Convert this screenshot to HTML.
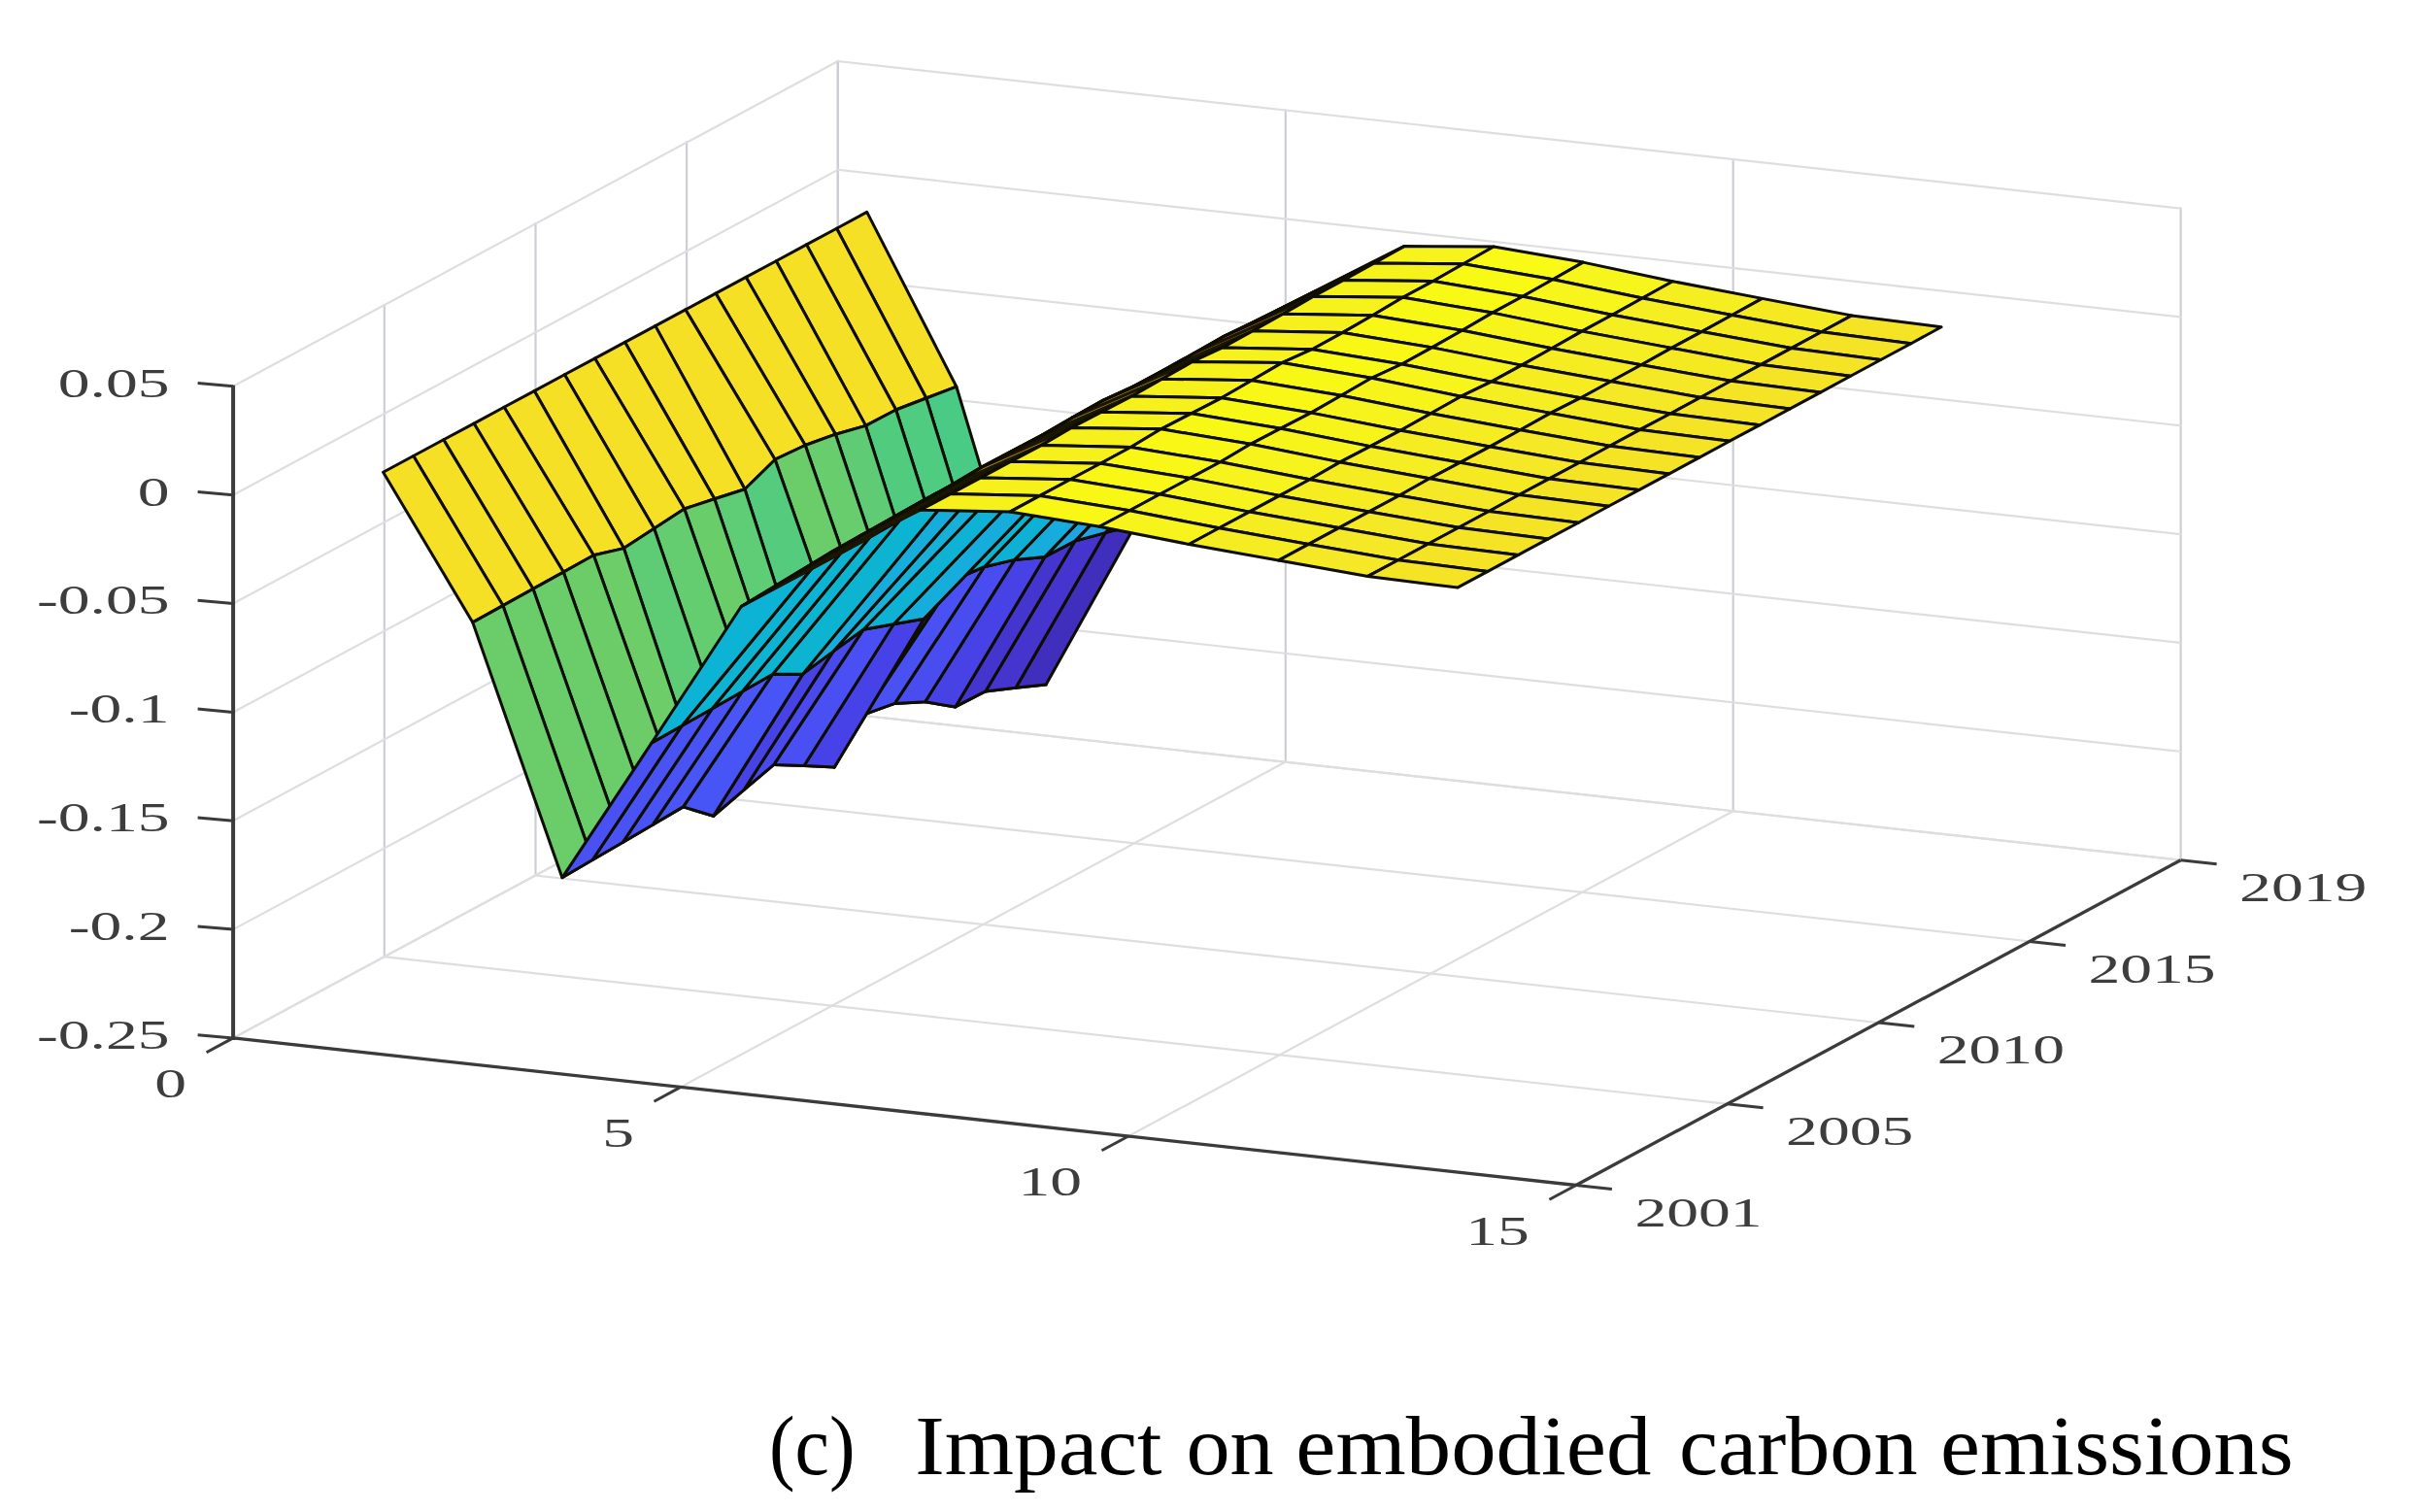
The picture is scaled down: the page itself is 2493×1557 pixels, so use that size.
<!DOCTYPE html>
<html lang="en"><head><meta charset="utf-8"><title>Impact on embodied carbon emissions</title><style>html,body{margin:0;padding:0;background:#fff}svg{display:block}</style></head><body>
<svg width="2493" height="1557" viewBox="0 0 2493 1557">
<rect width="2493" height="1557" fill="#fff"/>
<defs><filter id="soft" x="0" y="0" width="2493" height="1557" filterUnits="userSpaceOnUse"><feGaussianBlur stdDeviation="0.75"/></filter></defs>
<g filter="url(#soft)">
<g stroke="#cdced5" stroke-width="2.2" fill="none" stroke-linecap="square">
<line x1="240.1" y1="1068.9" x2="240.1" y2="397.8"/>
<line x1="395.8" y1="985.2" x2="395.8" y2="314.1"/>
<line x1="551.5" y1="901.5" x2="551.5" y2="230.4"/>
<line x1="707.1" y1="817.8" x2="707.1" y2="146.7"/>
<line x1="862.8" y1="734.1" x2="862.8" y2="63.0"/>
<line x1="240.1" y1="1068.9" x2="862.8" y2="734.1" stroke="#dedee1"/>
<line x1="240.1" y1="957.1" x2="862.8" y2="622.3" stroke="#dedee1"/>
<line x1="240.1" y1="845.2" x2="862.8" y2="510.4" stroke="#dedee1"/>
<line x1="240.1" y1="733.4" x2="862.8" y2="398.6" stroke="#dedee1"/>
<line x1="240.1" y1="621.5" x2="862.8" y2="286.7" stroke="#dedee1"/>
<line x1="240.1" y1="509.7" x2="862.8" y2="174.9" stroke="#dedee1"/>
<line x1="240.1" y1="397.8" x2="862.8" y2="63.0" stroke="#dedee1"/>
<line x1="862.8" y1="734.1" x2="862.8" y2="63.0"/>
<line x1="1323.8" y1="784.6" x2="1323.8" y2="113.5"/>
<line x1="1784.7" y1="835.2" x2="1784.7" y2="164.1"/>
<line x1="2245.6" y1="885.7" x2="2245.6" y2="214.6"/>
<line x1="862.8" y1="734.1" x2="2245.6" y2="885.7" stroke="#dedee1"/>
<line x1="862.8" y1="622.3" x2="2245.6" y2="773.9" stroke="#dedee1"/>
<line x1="862.8" y1="510.4" x2="2245.6" y2="662.0" stroke="#dedee1"/>
<line x1="862.8" y1="398.6" x2="2245.6" y2="550.2" stroke="#dedee1"/>
<line x1="862.8" y1="286.7" x2="2245.6" y2="438.3" stroke="#dedee1"/>
<line x1="862.8" y1="174.9" x2="2245.6" y2="326.5" stroke="#dedee1"/>
<line x1="862.8" y1="63.0" x2="2245.6" y2="214.6" stroke="#dedee1"/>
<line x1="240.1" y1="1068.9" x2="862.8" y2="734.1" stroke="#dedee1"/>
<line x1="701.0" y1="1119.4" x2="1323.8" y2="784.6" stroke="#dedee1"/>
<line x1="1162.0" y1="1170.0" x2="1784.7" y2="835.2" stroke="#dedee1"/>
<line x1="1622.9" y1="1220.5" x2="2245.6" y2="885.7" stroke="#dedee1"/>
<line x1="240.1" y1="1068.9" x2="1622.9" y2="1220.5" stroke="#dedee1"/>
<line x1="395.8" y1="985.2" x2="1778.6" y2="1136.8" stroke="#dedee1"/>
<line x1="551.5" y1="901.5" x2="1934.3" y2="1053.1" stroke="#dedee1"/>
<line x1="707.1" y1="817.8" x2="2090.0" y2="969.4" stroke="#dedee1"/>
<line x1="862.8" y1="734.1" x2="2245.6" y2="885.7" stroke="#dedee1"/>
</g>
<g stroke="#0a0902" stroke-width="3.0" stroke-linejoin="round">
<polygon points="861.6,235.2 953.8,410.0 984.9,398.2 892.7,218.4" fill="#f6e028"/>
<polygon points="953.8,410.0 1046.0,708.3 1077.1,705.1 984.9,398.2" fill="#49cb85"/>
<polygon points="1046.0,708.3 1138.2,548.6 1169.3,540.3 1077.1,705.1" fill="#412dbc"/>
<polygon points="1138.2,548.6 1257.5,424.5 1257.5,448.6 1169.3,540.3" fill="#23a0e5"/>
<polygon points="830.5,251.9 922.6,422.0 953.8,410.0 861.6,235.2" fill="#f6e028"/>
<polygon points="922.6,422.0 1014.8,711.9 1046.0,708.3 953.8,410.0" fill="#50cc7f"/>
<polygon points="1014.8,711.9 1107.0,557.1 1138.2,548.6 1046.0,708.3" fill="#4434ce"/>
<polygon points="1107.0,557.1 1257.5,400.6 1257.5,424.5 1138.2,548.6" fill="#20a5e2"/>
<polygon points="799.3,268.7 891.5,438.4 922.6,422.0 830.5,251.9" fill="#f6e028"/>
<polygon points="891.5,438.4 983.7,727.9 1014.8,711.9 922.6,422.0" fill="#51cc7f"/>
<polygon points="983.7,727.9 1075.9,573.4 1107.0,557.1 1014.8,711.9" fill="#4434cf"/>
<polygon points="1075.9,573.4 1257.5,384.5 1257.5,400.6 1107.0,557.1" fill="#1fa5e2"/>
<polygon points="768.2,285.4 860.4,447.2 891.5,438.4 799.3,268.7" fill="#f6e028"/>
<polygon points="860.4,447.2 952.6,722.8 983.7,727.9 891.5,438.4" fill="#5ecc74"/>
<polygon points="952.6,722.8 1044.8,576.4 1075.9,573.4 983.7,727.9" fill="#4742e6"/>
<polygon points="1044.8,576.4 1257.5,355.2 1257.5,384.5 1075.9,573.4" fill="#19addc"/>
<polygon points="737.0,302.1 829.2,458.5 860.4,447.2 768.2,285.4" fill="#f6e028"/>
<polygon points="829.2,458.5 921.4,724.4 952.6,722.8 860.4,447.2" fill="#67cd6d"/>
<polygon points="921.4,724.4 1013.6,583.7 1044.8,576.4 952.6,722.8" fill="#484df0"/>
<polygon points="1013.6,583.7 1205.4,384.3 1257.5,355.2 1044.8,576.4" fill="#11b1d6"/>
<polygon points="705.9,318.9 798.1,473.2 829.2,458.5 737.0,302.1" fill="#f6e028"/>
<polygon points="798.1,473.2 890.3,735.6 921.4,724.4 829.2,458.5" fill="#6acd6a"/>
<polygon points="890.3,735.6 982.5,597.0 1013.6,583.7 921.4,724.4" fill="#4851f3"/>
<polygon points="982.5,597.0 1166.8,405.3 1205.4,384.3 1013.6,583.7" fill="#0db3d3"/>
<polygon points="674.8,335.6 767.0,503.7 798.1,473.2 705.9,318.9" fill="#f6e028"/>
<polygon points="767.0,503.7 859.2,790.1 890.3,735.6 798.1,473.2" fill="#54cc7d"/>
<polygon points="859.2,790.1 951.3,637.3 982.5,597.0 890.3,735.6" fill="#4537d6"/>
<polygon points="951.3,637.3 1182.8,396.6 1166.8,405.3 982.5,597.0" fill="#1ea7e1"/>
<polygon points="643.6,352.4 735.8,513.8 767.0,503.7 674.8,335.6" fill="#f6e028"/>
<polygon points="735.8,513.8 828.0,788.5 859.2,790.1 767.0,503.7" fill="#5ecd74"/>
<polygon points="828.0,788.5 920.2,642.7 951.3,637.3 859.2,790.1" fill="#4743e7"/>
<polygon points="920.2,642.7 1125.9,428.7 1182.8,396.6 951.3,637.3" fill="#19addc"/>
<polygon points="612.5,369.1 704.7,524.0 735.8,513.8 643.6,352.4" fill="#f6e028"/>
<polygon points="704.7,524.0 796.9,787.4 828.0,788.5 735.8,513.8" fill="#69cd6b"/>
<polygon points="796.9,787.4 889.1,648.2 920.2,642.7 828.0,788.5" fill="#4850f3"/>
<polygon points="889.1,648.2 1071.3,458.7 1125.9,428.7 920.2,642.7" fill="#0eb2d4"/>
<polygon points="581.4,385.8 673.6,544.2 704.7,524.0 612.5,369.1" fill="#f6e028"/>
<polygon points="673.6,544.2 765.8,813.7 796.9,787.4 704.7,524.0" fill="#63cd6f"/>
<polygon points="765.8,813.7 857.9,670.9 889.1,648.2 796.9,787.4" fill="#4849ed"/>
<polygon points="857.9,670.9 1027.7,480.8 1071.3,458.7 889.1,648.2" fill="#14b0d8"/>
<polygon points="550.2,402.6 642.4,564.6 673.6,544.2 581.4,385.8" fill="#f6e028"/>
<polygon points="642.4,564.6 734.6,840.3 765.8,813.7 673.6,544.2" fill="#5dcc75"/>
<polygon points="734.6,840.3 826.8,693.9 857.9,670.9 765.8,813.7" fill="#4742e6"/>
<polygon points="826.8,693.9 980.9,507.4 1027.7,480.8 857.9,670.9" fill="#19addc"/>
<polygon points="519.1,419.3 611.3,571.8 642.4,564.6 550.2,402.6" fill="#f6e028"/>
<polygon points="611.3,571.8 703.5,830.9 734.6,840.3 642.4,564.6" fill="#6dcd67"/>
<polygon points="703.5,830.9 795.7,694.2 826.8,693.9 734.6,840.3" fill="#4755f6"/>
<polygon points="795.7,694.2 926.7,535.6 980.9,507.4 826.8,693.9" fill="#09b4d1"/>
<polygon points="488.0,436.1 580.2,589.1 611.3,571.8 519.1,419.3" fill="#f6e028"/>
<polygon points="580.2,589.1 672.3,849.2 703.5,830.9 611.3,571.8" fill="#6ccd68"/>
<polygon points="672.3,849.2 764.5,712.0 795.7,694.2 703.5,830.9" fill="#4854f5"/>
<polygon points="764.5,712.0 895.7,553.3 926.7,535.6 795.7,694.2" fill="#0ab4d2"/>
<polygon points="456.8,452.8 549.0,606.4 580.2,589.1 488.0,436.1" fill="#f6e028"/>
<polygon points="549.0,606.4 641.2,867.5 672.3,849.2 580.2,589.1" fill="#6bcd69"/>
<polygon points="641.2,867.5 733.4,729.7 764.5,712.0 672.3,849.2" fill="#4852f4"/>
<polygon points="733.4,729.7 865.6,569.7 895.7,553.3 764.5,712.0" fill="#0bb3d2"/>
<polygon points="425.7,469.5 517.9,623.6 549.0,606.4 456.8,452.8" fill="#f6e028"/>
<polygon points="517.9,623.6 610.1,885.5 641.2,867.5 549.0,606.4" fill="#6bcd69"/>
<polygon points="610.1,885.5 702.3,747.2 733.4,729.7 641.2,867.5" fill="#4852f4"/>
<polygon points="702.3,747.2 835.7,585.7 865.6,569.7 733.4,729.7" fill="#0cb3d3"/>
<polygon points="394.6,486.3 486.8,640.9 517.9,623.6 425.7,469.5" fill="#f6e028"/>
<polygon points="486.8,640.9 578.9,903.8 610.1,885.5 517.9,623.6" fill="#6acd6a"/>
<polygon points="578.9,903.8 671.1,764.9 702.3,747.2 610.1,885.5" fill="#4851f3"/>
<polygon points="671.1,764.9 763.3,624.5 835.7,585.7 702.3,747.2" fill="#0eb3d4"/>
<polygon points="1230.3,370.3 1322.5,315.8 1353.7,300.2 1261.5,352.8" fill="#75731a" stroke-width="3.0" stroke="#1a1304"/>
<polygon points="1322.5,315.8 1414.7,271.1 1445.9,253.6 1353.7,300.2" fill="#97761e" stroke-width="3.0" stroke="#1a1304"/>
<polygon points="1414.7,271.1 1506.9,271.8 1538.1,254.0 1445.9,253.6" fill="#f7f31d"/>
<polygon points="1506.9,271.8 1599.1,287.7 1630.2,270.1 1538.1,254.0" fill="#f9fa15"/>
<polygon points="1599.1,287.7 1691.3,307.0 1722.4,289.7 1630.2,270.1" fill="#f7f61a"/>
<polygon points="1691.3,307.0 1783.5,324.5 1814.6,307.4 1722.4,289.7" fill="#f5ef20"/>
<polygon points="1783.5,324.5 1875.7,341.8 1906.8,324.9 1814.6,307.4" fill="#f5e924"/>
<polygon points="1875.7,341.8 1967.9,353.7 1999.0,336.8 1906.8,324.9" fill="#f5e427"/>
<polygon points="1199.2,387.8 1291.4,331.4 1322.5,315.8 1230.3,370.3" fill="#75731a" stroke-width="3.0" stroke="#1a1304"/>
<polygon points="1291.4,331.4 1383.6,288.5 1414.7,271.1 1322.5,315.8" fill="#97771e" stroke-width="3.0" stroke="#1a1304"/>
<polygon points="1383.6,288.5 1475.8,289.5 1506.9,271.8 1414.7,271.1" fill="#f6f31d"/>
<polygon points="1475.8,289.5 1568.0,305.3 1599.1,287.7 1506.9,271.8" fill="#f9f916"/>
<polygon points="1568.0,305.3 1660.2,324.3 1691.3,307.0 1599.1,287.7" fill="#f7f51b"/>
<polygon points="1660.2,324.3 1752.3,341.6 1783.5,324.5 1691.3,307.0" fill="#f5ee21"/>
<polygon points="1752.3,341.6 1844.5,358.6 1875.7,341.8 1783.5,324.5" fill="#f5e924"/>
<polygon points="1844.5,358.6 1936.7,370.5 1967.9,353.7 1875.7,341.8" fill="#f5e427"/>
<polygon points="1168.1,404.6 1260.3,346.4 1291.4,331.4 1199.2,387.8" fill="#75731a" stroke-width="3.0" stroke="#1a1304"/>
<polygon points="1260.3,346.4 1352.5,305.3 1383.6,288.5 1291.4,331.4" fill="#97771d" stroke-width="3.0" stroke="#1a1304"/>
<polygon points="1352.5,305.3 1444.6,306.3 1475.8,289.5 1383.6,288.5" fill="#f6f31d"/>
<polygon points="1444.6,306.3 1536.8,322.1 1568.0,305.3 1475.8,289.5" fill="#f9f916"/>
<polygon points="1536.8,322.1 1629.0,341.1 1660.2,324.3 1568.0,305.3" fill="#f7f51b"/>
<polygon points="1629.0,341.1 1721.2,358.4 1752.3,341.6 1660.2,324.3" fill="#f5ee21"/>
<polygon points="1721.2,358.4 1813.4,375.4 1844.5,358.6 1752.3,341.6" fill="#f5e924"/>
<polygon points="1813.4,375.4 1905.6,387.2 1936.7,370.5 1844.5,358.6" fill="#f5e427"/>
<polygon points="1136.9,422.5 1229.1,364.0 1260.3,346.4 1168.1,404.6" fill="#74731b" stroke-width="3.0" stroke="#1a1304"/>
<polygon points="1229.1,364.0 1321.3,323.3 1352.5,305.3 1260.3,346.4" fill="#97771e" stroke-width="3.0" stroke="#1a1304"/>
<polygon points="1321.3,323.3 1413.5,324.7 1444.6,306.3 1352.5,305.3" fill="#f6f21e"/>
<polygon points="1413.5,324.7 1505.7,340.2 1536.8,322.1 1444.6,306.3" fill="#f8f818"/>
<polygon points="1505.7,340.2 1597.9,358.7 1629.0,341.1 1536.8,322.1" fill="#f7f41c"/>
<polygon points="1597.9,358.7 1690.1,375.7 1721.2,358.4 1629.0,341.1" fill="#f5ee21"/>
<polygon points="1690.1,375.7 1782.3,392.3 1813.4,375.4 1721.2,358.4" fill="#f5e924"/>
<polygon points="1782.3,392.3 1874.5,404.1 1905.6,387.2 1813.4,375.4" fill="#f5e327"/>
<polygon points="1105.8,440.1 1198.0,381.3 1229.1,364.0 1136.9,422.5" fill="#73731b" stroke-width="3.0" stroke="#1a1304"/>
<polygon points="1198.0,381.3 1290.2,340.8 1321.3,323.3 1229.1,364.0" fill="#97771e" stroke-width="3.0" stroke="#1a1304"/>
<polygon points="1290.2,340.8 1382.4,342.6 1413.5,324.7 1321.3,323.3" fill="#f6f11f"/>
<polygon points="1382.4,342.6 1474.6,357.9 1505.7,340.2 1413.5,324.7" fill="#f8f719"/>
<polygon points="1474.6,357.9 1566.8,376.1 1597.9,358.7 1505.7,340.2" fill="#f7f31c"/>
<polygon points="1566.8,376.1 1658.9,392.8 1690.1,375.7 1597.9,358.7" fill="#f5ed21"/>
<polygon points="1658.9,392.8 1751.1,409.2 1782.3,392.3 1690.1,375.7" fill="#f5e825"/>
<polygon points="1751.1,409.2 1843.3,420.9 1874.5,404.1 1782.3,392.3" fill="#f5e327"/>
<polygon points="1074.7,457.1 1166.9,398.0 1198.0,381.3 1105.8,440.1" fill="#73741b" stroke-width="3.0" stroke="#1a1304"/>
<polygon points="1166.9,398.0 1259.0,357.9 1290.2,340.8 1198.0,381.3" fill="#97771e" stroke-width="3.0" stroke="#1a1304"/>
<polygon points="1259.0,357.9 1351.2,359.7 1382.4,342.6 1290.2,340.8" fill="#f6f11f"/>
<polygon points="1351.2,359.7 1443.4,375.0 1474.6,357.9 1382.4,342.6" fill="#f8f719"/>
<polygon points="1443.4,375.0 1535.6,393.1 1566.8,376.1 1474.6,357.9" fill="#f7f31d"/>
<polygon points="1535.6,393.1 1627.8,409.7 1658.9,392.8 1566.8,376.1" fill="#f5ed22"/>
<polygon points="1627.8,409.7 1720.0,426.0 1751.1,409.2 1658.9,392.8" fill="#f5e825"/>
<polygon points="1720.0,426.0 1812.2,437.7 1843.3,420.9 1751.1,409.2" fill="#f5e327"/>
<polygon points="1043.5,471.8 1135.7,412.4 1166.9,398.0 1074.7,457.1" fill="#75731a" stroke-width="3.0" stroke="#1a1304"/>
<polygon points="1135.7,412.4 1227.9,372.5 1259.0,357.9 1166.9,398.0" fill="#96781d" stroke-width="3.0" stroke="#1a1304"/>
<polygon points="1227.9,372.5 1320.1,373.6 1351.2,359.7 1259.0,357.9" fill="#f6f21d"/>
<polygon points="1320.1,373.6 1412.3,389.3 1443.4,375.0 1351.2,359.7" fill="#f9f917"/>
<polygon points="1412.3,389.3 1504.5,408.2 1535.6,393.1 1443.4,375.0" fill="#f7f51b"/>
<polygon points="1504.5,408.2 1596.7,425.4 1627.8,409.7 1535.6,393.1" fill="#f5ee21"/>
<polygon points="1596.7,425.4 1688.9,442.4 1720.0,426.0 1627.8,409.7" fill="#f5e924"/>
<polygon points="1688.9,442.4 1781.1,454.2 1812.2,437.7 1720.0,426.0" fill="#f5e427"/>
<polygon points="1012.4,489.5 1104.6,429.9 1135.7,412.4 1043.5,471.8" fill="#74731b" stroke-width="3.0" stroke="#1a1304"/>
<polygon points="1104.6,429.9 1196.8,390.3 1227.9,372.5 1135.7,412.4" fill="#96771d" stroke-width="3.0" stroke="#1a1304"/>
<polygon points="1196.8,390.3 1289.0,391.7 1320.1,373.6 1227.9,372.5" fill="#f6f21e"/>
<polygon points="1289.0,391.7 1381.2,407.2 1412.3,389.3 1320.1,373.6" fill="#f8f818"/>
<polygon points="1381.2,407.2 1473.3,425.8 1504.5,408.2 1412.3,389.3" fill="#f7f41c"/>
<polygon points="1473.3,425.8 1565.5,442.7 1596.7,425.4 1504.5,408.2" fill="#f5ee21"/>
<polygon points="1565.5,442.7 1657.7,459.3 1688.9,442.4 1596.7,425.4" fill="#f5e924"/>
<polygon points="1657.7,459.3 1749.9,471.1 1781.1,454.2 1688.9,442.4" fill="#f5e327"/>
<polygon points="981.3,507.2 1073.5,447.9 1104.6,429.9 1012.4,489.5" fill="#73741b" stroke-width="3.0" stroke="#1a1304"/>
<polygon points="1073.5,447.9 1165.6,408.0 1196.8,390.3 1104.6,429.9" fill="#97771e" stroke-width="3.0" stroke="#1a1304"/>
<polygon points="1165.6,408.0 1257.8,409.8 1289.0,391.7 1196.8,390.3" fill="#f6f11f"/>
<polygon points="1257.8,409.8 1350.0,425.1 1381.2,407.2 1289.0,391.7" fill="#f8f719"/>
<polygon points="1350.0,425.1 1442.2,443.2 1473.3,425.8 1381.2,407.2" fill="#f7f31d"/>
<polygon points="1442.2,443.2 1534.4,459.9 1565.5,442.7 1473.3,425.8" fill="#f5ed22"/>
<polygon points="1534.4,459.9 1626.6,476.2 1657.7,459.3 1565.5,442.7" fill="#f5e825"/>
<polygon points="1626.6,476.2 1718.8,487.9 1749.9,471.1 1657.7,459.3" fill="#f5e327"/>
<polygon points="950.1,523.5 1042.3,464.4 1073.5,447.9 981.3,507.2" fill="#73731b" stroke-width="3.0" stroke="#1a1304"/>
<polygon points="1042.3,464.4 1134.5,424.2 1165.6,408.0 1073.5,447.9" fill="#97771d" stroke-width="3.0" stroke="#1a1304"/>
<polygon points="1134.5,424.2 1226.7,425.8 1257.8,409.8 1165.6,408.0" fill="#f6f11e"/>
<polygon points="1226.7,425.8 1318.9,441.2 1350.0,425.1 1257.8,409.8" fill="#f8f818"/>
<polygon points="1318.9,441.2 1411.1,459.6 1442.2,443.2 1350.0,425.1" fill="#f7f41c"/>
<polygon points="1411.1,459.6 1503.3,476.3 1534.4,459.9 1442.2,443.2" fill="#f5ed21"/>
<polygon points="1503.3,476.3 1595.5,492.9 1626.6,476.2 1534.4,459.9" fill="#f5e825"/>
<polygon points="1595.5,492.9 1687.6,504.6 1718.8,487.9 1626.6,476.2" fill="#f5e327"/>
<polygon points="919.0,539.7 1011.2,480.9 1042.3,464.4 950.1,523.5" fill="#74731b" stroke-width="3.0" stroke="#1a1304"/>
<polygon points="1011.2,480.9 1103.4,440.4 1134.5,424.2 1042.3,464.4" fill="#97771d" stroke-width="3.0" stroke="#1a1304"/>
<polygon points="1103.4,440.4 1195.6,441.8 1226.7,425.8 1134.5,424.2" fill="#f6f21e"/>
<polygon points="1195.6,441.8 1287.8,457.3 1318.9,441.2 1226.7,425.8" fill="#f8f818"/>
<polygon points="1287.8,457.3 1379.9,475.9 1411.1,459.6 1318.9,441.2" fill="#f7f41c"/>
<polygon points="1379.9,475.9 1472.1,492.8 1503.3,476.3 1411.1,459.6" fill="#f5ee21"/>
<polygon points="1472.1,492.8 1564.3,509.5 1595.5,492.9 1503.3,476.3" fill="#f5e924"/>
<polygon points="1564.3,509.5 1656.5,521.3 1687.6,504.6 1595.5,492.9" fill="#f5e327"/>
<polygon points="887.9,557.8 980.0,499.4 1011.2,480.9 919.0,539.7" fill="#73741b" stroke-width="3.0" stroke="#1a1304"/>
<polygon points="980.0,499.4 1072.2,458.6 1103.4,440.4 1011.2,480.9" fill="#97771e" stroke-width="3.0" stroke="#1a1304"/>
<polygon points="1072.2,458.6 1164.4,460.5 1195.6,441.8 1103.4,440.4" fill="#f6f11f"/>
<polygon points="1164.4,460.5 1256.6,475.7 1287.8,457.3 1195.6,441.8" fill="#f8f719"/>
<polygon points="1256.6,475.7 1348.8,493.8 1379.9,475.9 1287.8,457.3" fill="#f7f31d"/>
<polygon points="1348.8,493.8 1441.0,510.3 1472.1,492.8 1379.9,475.9" fill="#f5ed22"/>
<polygon points="1441.0,510.3 1533.2,526.5 1564.3,509.5 1472.1,492.8" fill="#f5e825"/>
<polygon points="1533.2,526.5 1625.4,538.2 1656.5,521.3 1564.3,509.5" fill="#f5e327"/>
<polygon points="856.7,574.5 948.9,516.3 980.0,499.4 887.9,557.8" fill="#73741b" stroke-width="3.0" stroke="#1a1304"/>
<polygon points="948.9,516.3 1041.1,475.2 1072.2,458.6 980.0,499.4" fill="#97761e" stroke-width="3.0" stroke="#1a1304"/>
<polygon points="1041.1,475.2 1133.3,477.2 1164.4,460.5 1072.2,458.6" fill="#f6f11f"/>
<polygon points="1133.3,477.2 1225.5,492.4 1256.6,475.7 1164.4,460.5" fill="#f8f719"/>
<polygon points="1225.5,492.4 1317.7,510.4 1348.8,493.8 1256.6,475.7" fill="#f7f31d"/>
<polygon points="1317.7,510.4 1409.9,526.9 1441.0,510.3 1348.8,493.8" fill="#f5ed22"/>
<polygon points="1409.9,526.9 1502.1,543.3 1533.2,526.5 1441.0,510.3" fill="#f5e825"/>
<polygon points="1502.1,543.3 1594.2,554.9 1625.4,538.2 1533.2,526.5" fill="#f5e327"/>
<polygon points="825.6,591.1 917.8,533.8 948.9,516.3 856.7,574.5" fill="#73741b" stroke-width="3.0" stroke="#1a1304"/>
<polygon points="917.8,533.8 1010.0,491.9 1041.1,475.2 948.9,516.3" fill="#97761e" stroke-width="3.0" stroke="#1a1304"/>
<polygon points="1010.0,491.9 1102.2,493.8 1133.3,477.2 1041.1,475.2" fill="#f6f11f"/>
<polygon points="1102.2,493.8 1194.3,509.0 1225.5,492.4 1133.3,477.2" fill="#f8f719"/>
<polygon points="1194.3,509.0 1286.5,527.1 1317.7,510.4 1225.5,492.4" fill="#f7f31d"/>
<polygon points="1286.5,527.1 1378.7,543.6 1409.9,526.9 1317.7,510.4" fill="#f5ed22"/>
<polygon points="1378.7,543.6 1470.9,560.0 1502.1,543.3 1409.9,526.9" fill="#f5e825"/>
<polygon points="1470.9,560.0 1563.1,571.6 1594.2,554.9 1502.1,543.3" fill="#f5e327"/>
<polygon points="794.5,607.8 886.6,551.3 917.8,533.8 825.6,591.1" fill="#73741b" stroke-width="3.0" stroke="#1a1304"/>
<polygon points="886.6,551.3 978.8,508.6 1010.0,491.9 917.8,533.8" fill="#97761e" stroke-width="3.0" stroke="#1a1304"/>
<polygon points="978.8,508.6 1071.0,510.4 1102.2,493.8 1010.0,491.9" fill="#f6f11f"/>
<polygon points="1071.0,510.4 1163.2,525.7 1194.3,509.0 1102.2,493.8" fill="#f8f719"/>
<polygon points="1163.2,525.7 1255.4,543.8 1286.5,527.1 1194.3,509.0" fill="#f7f31d"/>
<polygon points="1255.4,543.8 1347.6,560.4 1378.7,543.6 1286.5,527.1" fill="#f5ed22"/>
<polygon points="1347.6,560.4 1439.8,576.7 1470.9,560.0 1378.7,543.6" fill="#f5e825"/>
<polygon points="1439.8,576.7 1532.0,588.4 1563.1,571.6 1470.9,560.0" fill="#f5e327"/>
<polygon points="763.3,624.5 855.5,568.8 886.6,551.3 794.5,607.8" fill="#73741b" stroke-width="3.0" stroke="#1a1304"/>
<polygon points="855.5,568.8 947.7,525.2 978.8,508.6 886.6,551.3" fill="#97761f" stroke-width="3.0" stroke="#1a1304"/>
<polygon points="947.7,525.2 1039.9,527.1 1071.0,510.4 978.8,508.6" fill="#f6f11f"/>
<polygon points="1039.9,527.1 1132.1,542.3 1163.2,525.7 1071.0,510.4" fill="#f8f719"/>
<polygon points="1132.1,542.3 1224.3,560.5 1255.4,543.8 1163.2,525.7" fill="#f7f31d"/>
<polygon points="1224.3,560.5 1316.5,577.1 1347.6,560.4 1255.4,543.8" fill="#f5ed22"/>
<polygon points="1316.5,577.1 1408.6,593.4 1439.8,576.7 1347.6,560.4" fill="#f5e825"/>
<polygon points="1408.6,593.4 1500.8,605.1 1532.0,588.4 1439.8,576.7" fill="#f5e327"/>
<polyline points="763.3,624.5 855.5,568.8 886.6,551.3 917.8,533.8 948.9,516.3 980.0,499.4 1011.2,480.9 1042.3,464.4 1073.5,447.9 1104.6,429.9 1135.7,412.4 1166.9,398.0 1198.0,381.3 1229.1,364.0 1260.3,346.4 1291.4,331.4 1322.5,315.8 1353.7,300.2 1445.9,253.6" fill="none"/>
</g>
<g stroke="#3a3a3a" fill="none" stroke-linecap="butt">
<line x1="240.1" y1="1070.9" x2="240.1" y2="396.8" stroke-width="4.0"/>
<line x1="240.1" y1="1068.9" x2="1622.9" y2="1220.5" stroke-width="3.3"/>
<line x1="1622.9" y1="1220.5" x2="2245.6" y2="885.7" stroke-width="3.3"/>
<line x1="240.1" y1="1068.9" x2="203.6" y2="1065.7" stroke-width="3.0"/>
<line x1="240.1" y1="957.1" x2="203.6" y2="953.9" stroke-width="3.0"/>
<line x1="240.1" y1="845.2" x2="203.6" y2="842.0" stroke-width="3.0"/>
<line x1="240.1" y1="733.4" x2="203.6" y2="730.1" stroke-width="3.0"/>
<line x1="240.1" y1="621.5" x2="203.6" y2="618.3" stroke-width="3.0"/>
<line x1="240.1" y1="509.7" x2="203.6" y2="506.5" stroke-width="3.0"/>
<line x1="240.1" y1="397.8" x2="203.6" y2="394.6" stroke-width="3.0"/>
<line x1="240.1" y1="1068.9" x2="212.6" y2="1083.7" stroke-width="3.0"/>
<line x1="701.0" y1="1119.4" x2="673.5" y2="1134.2" stroke-width="3.0"/>
<line x1="1162.0" y1="1170.0" x2="1134.5" y2="1184.8" stroke-width="3.0"/>
<line x1="1622.9" y1="1220.5" x2="1595.4" y2="1235.3" stroke-width="3.0"/>
<line x1="1622.9" y1="1220.5" x2="1659.9" y2="1224.5" stroke-width="3.0"/>
<line x1="1778.6" y1="1136.8" x2="1815.6" y2="1140.8" stroke-width="3.0"/>
<line x1="1934.3" y1="1053.1" x2="1971.3" y2="1057.1" stroke-width="3.0"/>
<line x1="2090.0" y1="969.4" x2="2127.0" y2="973.4" stroke-width="3.0"/>
<line x1="2245.6" y1="885.7" x2="2282.6" y2="889.7" stroke-width="3.0"/>
</g>
<g font-family="'Liberation Serif', serif" font-size="41.5" fill="#3c3c3c">
<text transform="translate(174.5,1079.7) scale(1.580,1)" text-anchor="end">-0.25</text>
<text transform="translate(174.5,967.9) scale(1.580,1)" text-anchor="end">-0.2</text>
<text transform="translate(174.5,856.0) scale(1.580,1)" text-anchor="end">-0.15</text>
<text transform="translate(174.5,744.1) scale(1.580,1)" text-anchor="end">-0.1</text>
<text transform="translate(174.5,632.3) scale(1.580,1)" text-anchor="end">-0.05</text>
<text transform="translate(174.5,520.5) scale(1.580,1)" text-anchor="end">0</text>
<text transform="translate(174.5,408.6) scale(1.580,1)" text-anchor="end">0.05</text>
<text transform="translate(192.1,1130.0) scale(1.580,1)" text-anchor="end">0</text>
<text transform="translate(653.0,1180.5) scale(1.580,1)" text-anchor="end">5</text>
<text transform="translate(1114.0,1231.1) scale(1.580,1)" text-anchor="end">10</text>
<text transform="translate(1574.9,1281.6) scale(1.580,1)" text-anchor="end">15</text>
<text transform="translate(1683.4,1262.6) scale(1.580,1)" text-anchor="start">2001</text>
<text transform="translate(1839.1,1178.9) scale(1.580,1)" text-anchor="start">2005</text>
<text transform="translate(1994.8,1095.2) scale(1.580,1)" text-anchor="start">2010</text>
<text transform="translate(2150.5,1011.5) scale(1.580,1)" text-anchor="start">2015</text>
<text transform="translate(2306.1,927.8) scale(1.580,1)" text-anchor="start">2019</text>
</g>
</g>
<g font-family="'Liberation Serif', serif" font-size="87" fill="#000">
<text x="792.0" y="1518" textLength="88.5" lengthAdjust="spacingAndGlyphs">(c)</text>
<text x="942.2" y="1518" textLength="254.3" lengthAdjust="spacingAndGlyphs">Impact</text>
<text x="1221.5" y="1518" textLength="90.2" lengthAdjust="spacingAndGlyphs">on</text>
<text x="1334.3" y="1518" textLength="366.2" lengthAdjust="spacingAndGlyphs">embodied</text>
<text x="1729.0" y="1518" textLength="245.6" lengthAdjust="spacingAndGlyphs">carbon</text>
<text x="1998.0" y="1518" textLength="363.5" lengthAdjust="spacingAndGlyphs">emissions</text>
</g>
</svg>
</body></html>
